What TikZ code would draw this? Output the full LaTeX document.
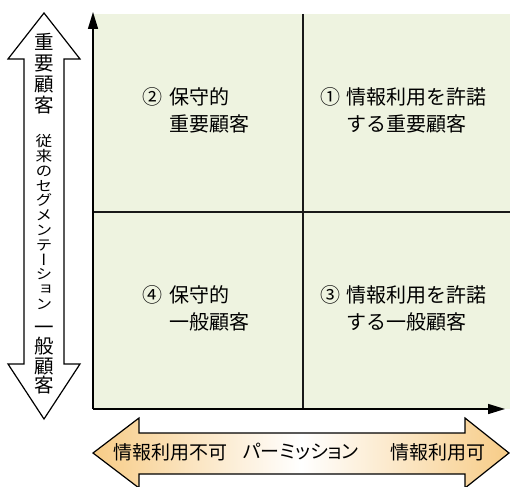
\documentclass[tikz,border=0pt]{standalone}
\usepackage{fontspec}
\newfontfamily\jp{Noto Sans CJK JP}
\newfontfamily\jpv[RawFeature=+vert]{Noto Sans CJK JP}
\newfontfamily\jpp[RawFeature=+palt]{Noto Sans CJK JP}
\usetikzlibrary{arrows.meta}
\definecolor{quadfill}{RGB}{238,243,224}
\definecolor{arroworange}{RGB}{247,204,135}
\tikzset{
  axisline/.style={line width=1.5pt, -{Triangle[length=17pt,width=10pt]}},
  divider/.style={line width=2pt, draw=black!90},
  bigarrow/.style={line width=1.2pt, draw=black, line join=miter},
  quadtext/.style={inner sep=0pt, anchor=west, font=\jp\fontsize{20}{27}\selectfont},
  vtext/.style={inner sep=0pt, align=center},
  htext/.style={inner sep=0pt, font=\jp\fontsize{19}{19}\selectfont}
}
\begin{document}
\begin{tikzpicture}[x=1pt,y=-1pt]
\useasboundingbox (0,0) rectangle (510,486);
% quadrant background
\fill[quadfill] (93,14) rectangle (510,409);
% coordinates
\coordinate (O) at (93,409);
\coordinate (ytop) at (93,12);
\coordinate (xend) at (505,409);
\coordinate (vtop) at (303,14);
\coordinate (vbot) at (303,409);
\coordinate (hl) at (93,212);
\coordinate (hr) at (510,212);
% dividers
\draw[divider] (vtop) -- (vbot);
\draw[divider] (hl) -- (hr);
% axes
\draw[axisline] (O) -- (ytop);
\draw[axisline] (O) -- (xend);
% quadrant labels
\node[quadtext] (q2) at (142,113) {\begin{tabular}{@{}l@{\hspace{7pt}}l@{}}②&保守的\\&重要顧客\end{tabular}};
\node[quadtext] (q1) at (320,113) {\begin{tabular}{@{}l@{\hspace{6pt}}l@{}}①&情報利用を許諾\\&する重要顧客\end{tabular}};
\node[quadtext] (q4) at (142,311) {\begin{tabular}{@{}l@{\hspace{7pt}}l@{}}④&保守的\\&一般顧客\end{tabular}};
\node[quadtext] (q3) at (320,311) {\begin{tabular}{@{}l@{\hspace{6pt}}l@{}}③&情報利用を許諾\\&する一般顧客\end{tabular}};
% vertical double arrow
\draw[bigarrow, fill=white] (44,13) -- (80,59) -- (64,59) -- (64,364) -- (80,364) -- (44,419) -- (8,364) -- (24,364) -- (24,59) -- (8,59) -- cycle;
\node[vtext, font=\jp\fontsize{19.5}{21}\selectfont] (vtl) at (44,74) {重\\要\\顧\\客};
\node[vtext, xscale=1.15, font=\jpv\fontsize{14.5}{14.8}\selectfont] (vml) at (44,222) {従\\来\\の\\セ\\グ\\メ\\ン\\テ\\ー\\シ\\ョ\\ン};
\node[vtext, font=\jp\fontsize{19.5}{19.5}\selectfont] (vbl) at (44,360) {一\\般\\顧\\客};
% horizontal double arrow
\draw[bigarrow, left color=arroworange, right color=arroworange, middle color=white] (93,453) -- (139,418) -- (139,433) -- (465,433) -- (465,418) -- (509,453) -- (465,488) -- (465,474) -- (139,474) -- (139,488) -- cycle;
\node[htext] (hl1) at (170,452) {情報利用不可};
\node[htext, font=\jpp\fontsize{19}{19}\selectfont] (hm1) at (301,452) {パーミッション};
\node[htext] (hr1) at (438,452) {情報利用可};
\end{tikzpicture}
\end{document}
